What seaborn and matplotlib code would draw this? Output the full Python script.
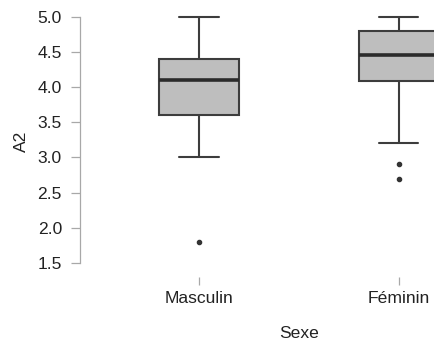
import numpy as np
import pandas as pd
import seaborn as sns
from matplotlib import pyplot as plt

# A2 scores per group
masculin = [1.8, 3.0, 3.4, 3.6, 3.8, 4.0, 4.1, 4.2, 4.3, 4.4, 4.6, 4.8, 5.0]
feminin = [2.7, 2.9, 3.2, 3.8, 4.08, 4.2, 4.3, 4.4, 4.45, 4.5, 4.6, 4.7,
           4.8, 4.9, 5.0, 5.0, 5.0]
groups = ["Masculin", "Féminin"]
y_ticks = [1.5, 2.0, 2.5, 3.0, 3.5, 4.0, 4.5, 5.0]

df = pd.DataFrame({
    "Sexe": [groups[0]] * len(masculin) + [groups[1]] * len(feminin),
    "A2": masculin + feminin,
})

sns.set_style("white")
plt.rcParams["font.family"] = ["Liberation Sans", "DejaVu Sans"]

line_col = "#3d3d3d"
axis_col = "#a8a8a8"
text_col = "#222222"

f = plt.figure(figsize=(4.34, 3.47), dpi=100)
ax = f.add_axes([80 / 434, 70 / 347, 438 / 434, 270 / 347])

sns.boxplot(
    data=df,
    x="Sexe",
    y="A2",
    order=groups,
    width=0.4,
    color="#bebebe",
    linecolor=line_col,
    linewidth=1.5,
    fliersize=3,
    ax=ax,
    boxprops=dict(facecolor="#bebebe", edgecolor=line_col),
    medianprops=dict(color="#2b2b2b", linewidth=2.6),
    flierprops=dict(marker="o", markerfacecolor="#333333",
                    markeredgecolor="#333333"),
)

ax.set_xlim(-0.5965, 1.599)
ax.set_ylim(1.301, 5.138)
ax.set_yticks(y_ticks)
ax.set_yticklabels(["{:.1f}".format(t) for t in y_ticks])

for side in ["top", "right", "bottom"]:
    ax.spines[side].set_visible(False)
ax.spines["left"].set_color(axis_col)
ax.spines["left"].set_linewidth(0.9)
ax.spines["left"].set_bounds(1.5, 5.0)

ax.tick_params(axis="y", left=True, length=6.5, width=0.9, color=axis_col,
               pad=6.5, labelsize=12.6, labelcolor=text_col)
ax.tick_params(axis="x", bottom=True, length=5.8, width=0.9, color=axis_col,
               pad=4, labelsize=12.6, labelcolor=text_col)

ax.set_ylabel("A2", fontsize=12.6, color=text_col)
ax.set_xlabel("Sexe", fontsize=12.6, color=text_col)
ax.yaxis.set_label_coords(-0.1164, 0.504)
ax.xaxis.set_label_coords(0.5, -0.183)

f.savefig("out.png", dpi=100)
